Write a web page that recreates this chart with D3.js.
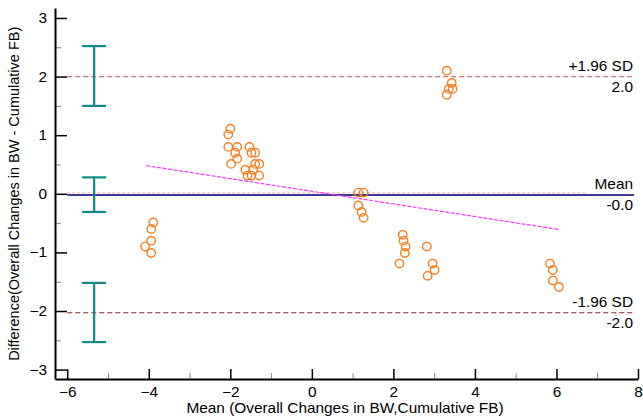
<!DOCTYPE html>
<html>
<head>
<meta charset="utf-8">
<script src="https://cdn.jsdelivr.net/npm/d3@7"></script>
<style>
  body { margin: 0; background: #fff; }
  svg { display: block; font-family: "Liberation Sans", Arial, sans-serif; }
  .axis text { font-size: 14px; fill: #000; }
</style>
</head>
<body>
<div id="chart"></div>
<script>
// --- Bland-Altman plot ---

// data
const meanVals = [
  -3.89, -3.94, -3.94, -4.09, -3.94,
  -2.00, -2.05, -2.05, -1.83, -1.88, -1.83, -1.98, -1.53, -1.48, -1.39, -1.39, -1.29, -1.63, -1.44, -1.58, -1.48, -1.29,
  1.14, 1.27, 1.14, 1.22, 1.27,
  2.23, 2.25, 2.30, 2.28, 2.15, 2.82, 2.96, 3.01, 2.84,
  3.31, 3.43, 3.36, 3.45, 3.31,
  5.84, 5.91, 5.91, 6.06
];
const diffVals = [
  -0.49, -0.60, -0.80, -0.90, -1.01,
  1.11, 1.01, 0.80, 0.80, 0.70, 0.60, 0.51, 0.80, 0.70, 0.70, 0.51, 0.51, 0.41, 0.41, 0.31, 0.31, 0.31,
  0.02, 0.02, -0.20, -0.31, -0.41,
  -0.70, -0.80, -0.90, -1.01, -1.19, -0.90, -1.19, -1.30, -1.40,
  2.10, 1.89, 1.79, 1.79, 1.69,
  -1.19, -1.30, -1.48, -1.59
];

const xTicks = [-6, -4, -2, 0, 2, 4, 6, 8];
const xMinor = [-5, -3, -1, 1, 3, 5, 7];
const yTicks = [-3, -2, -1, 0, 1, 2, 3];
const yMinor = [-2.5, -1.5, -0.5, 0.5, 1.5, 2.5];

// reference lines: mean and limits of agreement
const limits = [
  { name: "+1.96 SD", label: "2.0", value: 2.0, color: "#c07a7a", dash: "5,3", width: 1.2 },
  { name: "Mean", label: "-0.0", value: -0.02, color: "#3a3a96", dash: null, width: 2 },
  { name: "-1.96 SD", label: "-2.0", value: -2.03, color: "#8a2a2a", dash: "5,3", width: 1.2 }
];
// confidence intervals of the lines, drawn as error bars
const ciX = -5.34;
const ciLow = [1.50, -0.31, -2.53];
const ciHigh = [2.52, 0.28, -1.52];
// regression line of difference on mean
const regX = [-4.06, 6.06];
const regY = [0.48, -0.61];

(function () {
    const W = 643, H = 419;
    const sx = 1.1; // the reference text is a little wider than it is tall
    const svg = d3.select("#chart").append("svg")
        .attr("width", W).attr("height", H);

    const x = d3.scaleLinear().domain([-6.3, 8]).range([55, 638]);
    const y = d3.scaleLinear().domain([-3.16, 3.17]).range([379, 8]);

    // minor ticks
    svg.append("g").attr("transform", `translate(${x(-6.3)},0)`)
        .call(d3.axisLeft(y).tickValues(yMinor).tickSize(-6).tickFormat(""))
        .call(g => g.select(".domain").remove())
        .call(g => g.selectAll("line").attr("stroke", "#888"));
    svg.append("g").attr("transform", `translate(0,${y(-3.16)})`)
        .call(d3.axisBottom(x).tickValues(xMinor).tickSize(-6).tickFormat(""))
        .call(g => g.select(".domain").remove())
        .call(g => g.selectAll("line").attr("stroke", "#888"));

    // major axes
    svg.append("g").attr("class", "axis")
        .attr("transform", `translate(${x(-6.3)},0)`)
        .call(d3.axisLeft(y).tickValues(yTicks).tickSize(-12).tickSizeOuter(0).tickPadding(8).tickFormat(d3.format("d")))
        .call(g => g.select(".domain").attr("stroke-width", 2))
        .call(g => g.selectAll(".tick line").attr("stroke-width", 1.5))
        .call(g => g.selectAll(".tick text").attr("transform", `scale(${sx},1)`).attr("x", -8 / sx));
    svg.append("g").attr("class", "axis")
        .attr("transform", `translate(0,${y(-3.16)})`)
        .call(d3.axisBottom(x).tickValues(xTicks).tickSize(-10).tickSizeOuter(0).tickPadding(8).tickFormat(d3.format("d")))
        .call(g => g.select(".domain").attr("stroke-width", 2))
        .call(g => g.selectAll(".tick line").attr("stroke-width", 1.5))
        .call(g => g.selectAll(".tick text").attr("transform", `scale(${sx},1)`));

    // zero line (thin, dashed)
    svg.append("line")
        .attr("x1", x(-6)).attr("x2", x(6.7))
        .attr("y1", y(0.015)).attr("y2", y(0.015))
        .attr("stroke", "#f0a8a8").attr("stroke-width", 1).attr("stroke-dasharray", "3,2");

    // mean and limit lines
    svg.selectAll(".limit").data(limits).join("line")
        .attr("class", "limit")
        .attr("x1", x(-6)).attr("x2", x(7.9))
        .attr("y1", d => y(d.value)).attr("y2", d => y(d.value))
        .attr("stroke", d => d.color)
        .attr("stroke-width", d => d.width)
        .attr("stroke-dasharray", d => d.dash);

    svg.selectAll(".limName").data(limits).join("text")
        .attr("transform", d => `translate(633,${y(d.value) - 6}) scale(${sx},1)`)
        .attr("text-anchor", "end").attr("font-size", 14)
        .text(d => d.name);
    svg.selectAll(".limVal").data(limits).join("text")
        .attr("transform", d => `translate(633,${y(d.value) + 15}) scale(${sx},1)`)
        .attr("text-anchor", "end").attr("font-size", 14)
        .text(d => d.label);

    // regression line
    svg.append("line")
        .attr("x1", x(regX[0])).attr("y1", y(regY[0]))
        .attr("x2", x(regX[1])).attr("y2", y(regY[1]))
        .attr("stroke", "#ff33ff").attr("stroke-width", 1.2).attr("stroke-dasharray", "4,1.5");

    // error bars
    const ci = svg.append("g").attr("stroke", "#138a84").attr("stroke-width", 2.2);
    ciLow.forEach((lo, i) => {
        const hi = ciHigh[i], cx = x(ciX);
        ci.append("line").attr("x1", cx).attr("x2", cx).attr("y1", y(lo)).attr("y2", y(hi));
        ci.append("line").attr("x1", cx - 12).attr("x2", cx + 12).attr("y1", y(lo)).attr("y2", y(lo));
        ci.append("line").attr("x1", cx - 12).attr("x2", cx + 12).attr("y1", y(hi)).attr("y2", y(hi));
    });

    // points
    svg.append("g").selectAll("circle")
        .data(meanVals.map((m, i) => [m, diffVals[i]]))
        .join("circle")
        .attr("cx", d => x(d[0])).attr("cy", d => y(d[1]))
        .attr("r", 4.2)
        .attr("fill", "none").attr("stroke", "#f77f1e").attr("stroke-width", 1.4);

    // axis titles
    svg.append("text")
        .attr("transform", `translate(345,413) scale(${sx},1)`)
        .attr("text-anchor", "middle").attr("font-size", 14)
        .text("Mean (Overall Changes in BW,Cumulative FB)");
    svg.append("text")
        .attr("transform", `translate(19,${y(0)}) rotate(-90)`)
        .attr("text-anchor", "middle").attr("font-size", 14.5)
        .text("Difference(Overall Changes in BW - Cumulative FB)");
})();
</script>
</body>
</html>
